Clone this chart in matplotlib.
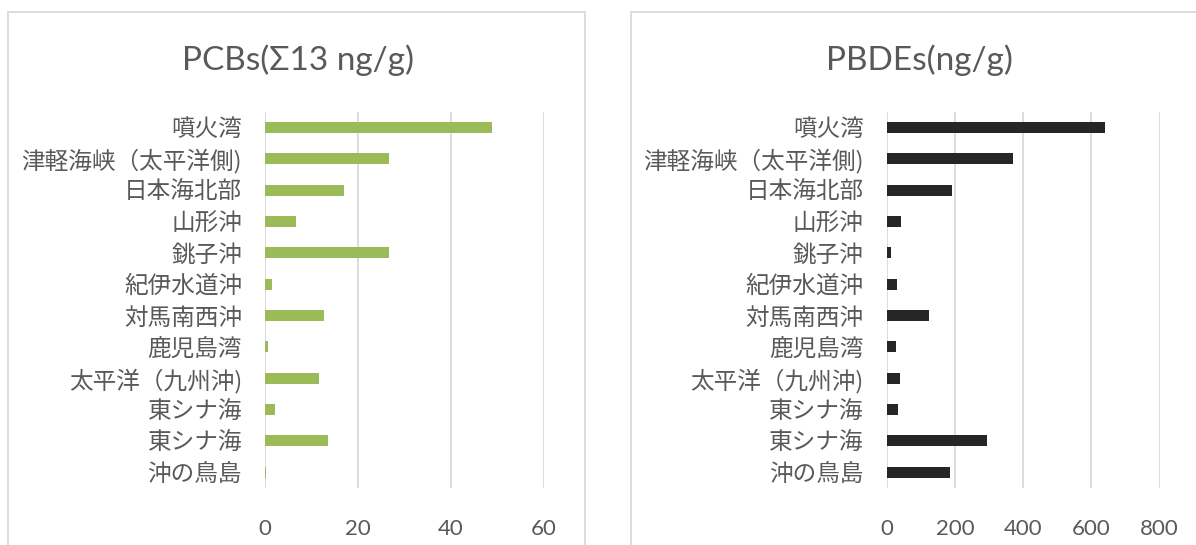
import matplotlib
matplotlib.use('Agg')
import matplotlib.pyplot as plt
from matplotlib.patches import Rectangle

# sampling sites, top to bottom
sites = ['噴火湾', '津軽海峡（太平洋側)', '日本海北部', '山形沖', '銚子沖', '紀伊水道沖',
         '対馬南西沖', '鹿児島湾', '太平洋（九州沖)', '東シナ海', '東シナ海', '沖の鳥島']
pcbs = [48.9, 26.6, 17.0, 6.6, 26.7, 1.5, 12.7, 0.6, 11.6, 2.1, 13.6, 0.3]
pbdes = [639, 369, 192, 43, 12, 30, 125, 27, 38, 32, 293, 186]

pcb_ticks = [0, 20, 40, 60]
pbde_ticks = [0, 200, 400, 600, 800]

W, H = 1196, 545
TEXT = '#595959'
GRID = '#d9d9d9'
LATIN = ['Lato', 'DejaVu Sans']
JP = ['Noto Sans CJK JP', 'DejaVu Sans']

fig = plt.figure(figsize=(W / 100, H / 100), dpi=100)


def px(x0, y0, x1, y1):
    # pixel box (top-left origin) -> figure fraction rect
    return [x0 / W, 1 - y1 / H, (x1 - x0) / W, (y1 - y0) / H]


def panel(rect, values, ticks, color, title, title_x):
    ax = fig.add_axes(rect)
    y = list(range(len(sites)))
    ax.barh(y, values, height=0.35, color=color, zorder=3)
    ax.set_ylim(len(sites) - 0.5, -0.5)
    ax.set_xlim(ticks[0], ticks[-1])
    ax.set_xticks(ticks)
    ax.set_xticklabels([str(t) for t in ticks], family=LATIN, fontsize=16, color=TEXT)
    ax.set_yticks(y)
    ax.set_yticklabels(sites, family=JP, fontsize=17, color=TEXT)
    ax.tick_params(axis='both', length=0)
    ax.tick_params(axis='x', pad=22)
    ax.tick_params(axis='y', pad=16.5)
    ax.xaxis.grid(True, color=GRID, linewidth=1.3, zorder=0)
    for s in ax.spines.values():
        s.set_visible(False)
    ax.set_facecolor('none')
    fig.text(title_x / W, 1 - 70 / H, title, ha='center', va='baseline',
             family=LATIN, fontsize=24, color=TEXT)
    return ax


# chart frames (run off the bottom/right edges)
for x0, x1 in [(8, 585), (631, 1220)]:
    fig.add_artist(Rectangle((x0 / W, -0.1), (x1 - x0) / W, 1.1 - 12 / H,
                             transform=fig.transFigure, fill=False,
                             edgecolor=GRID, linewidth=1.3))

panel(px(265, 111.7, 543.7, 488), pcbs, pcb_ticks, '#9bbb59', 'PCBs(Σ13 ng/g)', 297.5)
panel(px(886.7, 111.7, 1159.7, 488), pbdes, pbde_ticks, '#262626', 'PBDEs(ng/g)', 919)

fig.savefig('out.png', dpi=100)
